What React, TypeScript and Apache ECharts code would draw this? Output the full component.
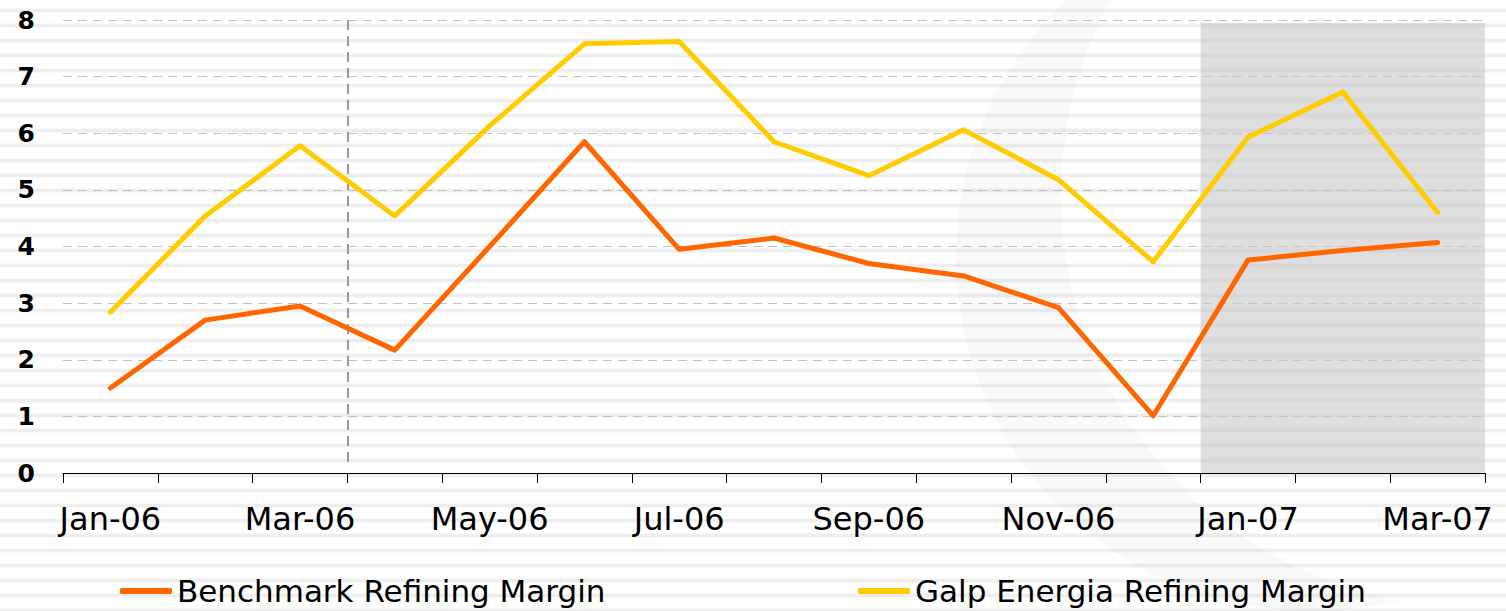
import React, { useEffect, useRef } from "react";
import * as echarts from "echarts";

const categories = [
  "Jan-06", "Feb-06", "Mar-06", "Apr-06", "May-06", "Jun-06", "Jul-06", "Aug-06",
  "Sep-06", "Oct-06", "Nov-06", "Dec-06", "Jan-07", "Feb-07", "Mar-07",
];
const benchmark = [1.5, 2.7, 2.95, 2.17, 4.0, 5.85, 3.95, 4.15, 3.7, 3.48, 2.92, 1.01, 3.76, 3.93, 4.07];
const galp = [2.84, 4.54, 5.78, 4.54, 6.13, 7.58, 7.62, 5.85, 5.25, 6.06, 5.18, 3.73, 5.93, 6.73, 4.6];
const yTicks = { min: 0, max: 8, interval: 1 };
// boundary positions (in category widths) for the dashed divider and the shaded period
const dividerAt = 3;
const shadedFrom = 12;
const shadedTo = 15;

const FONT = "DejaVu Sans";

echarts.graphic.registerShape(
  "logo",
  echarts.graphic.extendPath(
    "M1150 -60 A355 355 0 0 0 1400 600 A411 411 0 0 1 1150 -60 Z",
    {}
  )
);

export default function App() {
  const ref = useRef<HTMLDivElement>(null);
  useEffect(() => {
    if (!ref.current) return;
    const chart = echarts.init(ref.current, undefined, { renderer: "svg" });
    const legendText = { fontFamily: FONT, fontSize: 31, color: "#000", lineHeight: 32 };
    chart.setOption({
      animation: false,
      backgroundColor: "transparent",
      grid: { left: 63, right: 21, top: 20, bottom: 138, containLabel: false },
      graphic: [
        {
          type: "logo",
          x: 0,
          y: 0,
          z: -10,
          silent: true,
          style: { fill: "rgba(110,110,110,0.045)" },
        },
      ],
      legend: [
        {
          left: 120,
          top: 575,
          padding: 0,
          itemWidth: 52,
          itemHeight: 6,
          icon: "roundRect",
          data: ["Benchmark Refining Margin"],
          textStyle: legendText,
        },
        {
          left: 858,
          top: 575,
          padding: 0,
          itemWidth: 52,
          itemHeight: 6,
          icon: "roundRect",
          data: ["Galp Energia Refining Margin"],
          textStyle: legendText,
        },
      ],
      xAxis: [
        {
          type: "category",
          data: categories,
          boundaryGap: true,
          axisLine: { lineStyle: { color: "#000", width: 1 } },
          axisTick: { show: true, interval: 0, length: 10, lineStyle: { color: "#000" } },
          axisLabel: {
            interval: 1,
            fontFamily: FONT,
            fontSize: 32,
            lineHeight: 36,
            color: "#000",
            margin: 28,
          },
          splitLine: { show: false },
        },
        {
          type: "value",
          min: 0,
          max: categories.length,
          show: false,
        },
      ],
      yAxis: {
        type: "value",
        min: yTicks.min,
        max: yTicks.max,
        interval: yTicks.interval,
        axisLine: { show: false },
        axisTick: { show: false },
        axisLabel: {
          fontFamily: FONT,
          fontSize: 25,
          fontWeight: "bold",
          color: "#000",
          margin: 28,
        },
        splitLine: { lineStyle: { color: "#c2c2c2", type: [9, 6], width: 1 } },
      },
      series: [
        {
          name: "Shading",
          type: "line",
          xAxisIndex: 1,
          data: [],
          silent: true,
          markArea: {
            silent: true,
            itemStyle: { color: "rgba(200,200,200,0.6)" },
            data: [[{ xAxis: shadedFrom, yAxis: 7.95 }, { xAxis: shadedTo, yAxis: yTicks.min }]],
          },
          markLine: {
            silent: true,
            symbol: "none",
            label: { show: false },
            lineStyle: { color: "#999", type: [10, 6], width: 2 },
            data: [
              [
                { coord: [dividerAt, yTicks.max] },
                { coord: [dividerAt, 0.15] },
              ],
            ],
          },
        },
        {
          name: "Benchmark Refining Margin",
          type: "line",
          data: benchmark,
          symbol: "none",
          color: "#FF6600",
          lineStyle: { color: "#FF6600", width: 5, cap: "round", join: "round" },
          z: 5,
        },
        {
          name: "Galp Energia Refining Margin",
          type: "line",
          data: galp,
          symbol: "none",
          color: "#FFCC00",
          lineStyle: { color: "#FFCC00", width: 5, cap: "round", join: "round" },
          z: 5,
        },
      ],
    });
    return () => chart.dispose();
  }, []);
  return (
    <div
      style={{
        position: "absolute",
        left: 0,
        top: 0,
        width: 1506,
        height: 611,
        background:
          "repeating-linear-gradient(180deg, #ffffff 0px, #ffffff 8px, #eeeeee 9.5px, #eeeeee 11.5px, #ffffff 13px, #ffffff 15px)",
      }}
    >
      <div ref={ref} style={{ width: 1506, height: 611 }} />
    </div>
  );
}
